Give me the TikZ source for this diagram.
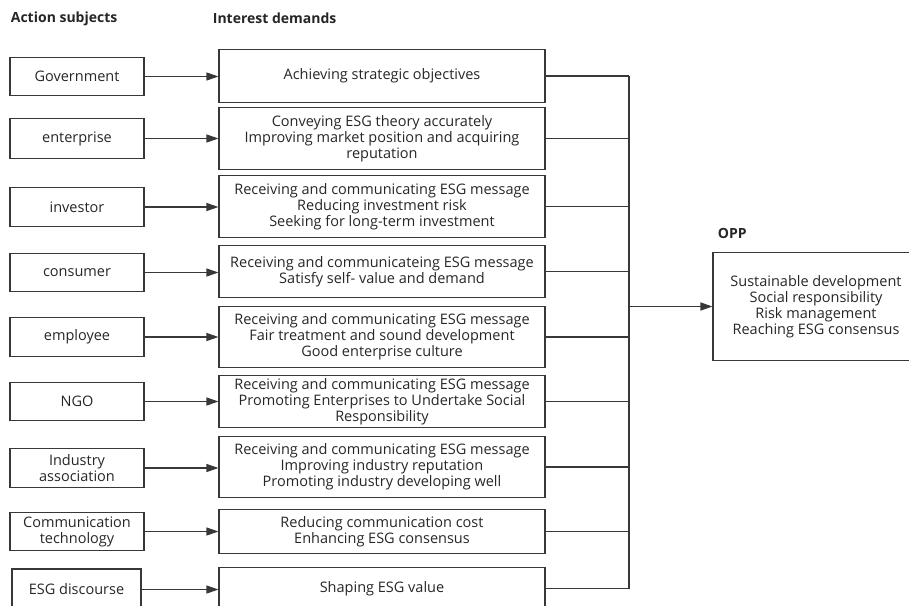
\documentclass[tikz,border=0pt]{standalone}
\usepackage{fontspec}
\setmainfont{Open Sans}
\usetikzlibrary{arrows.meta}
\definecolor{linec}{HTML}{383838}
\definecolor{textc}{HTML}{262626}

\begin{document}
\begin{tikzpicture}[x=1pt, y=-1pt, line width=1.1pt, color=linec, text=textc,
  font=\fontsize{14.5}{16}\selectfont,
  actor/.style={draw=linec, minimum width=134pt, minimum height=38pt, inner sep=1pt, align=center},
  demand/.style={draw=linec, minimum width=326pt, inner sep=1pt, align=center},
  head/.style={font=\fontsize{14}{16}\selectfont\bfseries, anchor=west},
  link/.style={-{Triangle[length=12pt, width=8pt]}}]
  \useasboundingbox (0,0) rectangle (909,605);
  \clip (0,0) rectangle (909,605);

  % titles
  \node[head] (tsub) at (7,18.5) {Action subjects};
  \node[head] (tdem) at (209,18.5) {Interest demands};
  \node[head] (topp) at (714,233) {OPP};

  % action subjects
  \node[actor] (a1) at (77,76.5) {Government};
  \node[actor, minimum height=40pt] (a2) at (77,138.5) {enterprise};
  \node[actor, minimum height=39pt] (a3) at (77,207) {investor};
  \node[actor] (a4) at (77,272.5) {consumer};
  \node[actor, minimum height=39pt] (a5) at (77,337) {employee};
  \node[actor] (a6) at (77,401.5) {NGO};
  \node[actor, minimum height=39pt] (a7) at (77,468) {Industry\\association};
  \node[actor] (a8) at (77,531.5) {Communication\\technology};
  \node[actor, minimum width=129pt, minimum height=41pt] (a9) at (76.5,589.5) {ESG discourse};

  % interest demands
  \node[demand, minimum height=53pt] (d1) at (382,76) {Achieving strategic objectives};
  \node[demand, minimum height=62pt] (d2) at (382,138.5) {Conveying ESG theory accurately\\Improving market position and acquiring\\reputation};
  \node[demand, minimum height=62pt] (d3) at (382,206.5) {Receiving and communicating ESG message\\Reducing investment risk\\Seeking for long-term investment};
  \node[demand, minimum height=52pt] (d4) at (382,271.5) {Receiving and communicateing ESG message\\Satisfy self- value and demand};
  \node[demand, minimum height=61pt] (d5) at (382,337) {Receiving and communicating ESG message\\Fair treatment and sound development\\Good enterprise culture};
  \node[demand, minimum height=52pt] (d6) at (382,401.5) {Receiving and communicating ESG message\\Promoting Enterprises to Undertake Social\\Responsibility};
  \node[demand, minimum height=61pt] (d7) at (382,467) {Receiving and communicating ESG message\\Improving industry reputation\\Promoting industry developing well};
  \node[demand, minimum height=44pt] (d8) at (382,531.5) {Reducing communication cost\\Enhancing ESG consensus};
  \node[demand, minimum height=42pt] (d9) at (382,588.5) {Shaping ESG value};

  % OPP
  \node[draw=linec, minimum width=206pt, minimum height=108pt, align=center] (opp) at (816,306.5)
    {Sustainable development\\Social responsibility\\Risk management\\Reaching ESG consensus};

  % subject -> demand
  \draw[link] (a1.east) -- (a1.east -| d1.west);
  \draw[link] (a2.east) -- (a2.east -| d2.west);
  \draw[link] (a3.east) -- (a3.east -| d3.west);
  \draw[link] (a4.east) -- (a4.east -| d4.west);
  \draw[link] (a5.east) -- (a5.east -| d5.west);
  \draw[link] (a6.east) -- (a6.east -| d6.west);
  \draw[link] (a7.east) -- (a7.east -| d7.west);
  \draw[link] (a8.east) -- (a8.east -| d8.west);
  \draw[link] (a9.east) -- (a9.east -| d9.west);

  % bus to OPP
  \coordinate (bus) at (629,0);
  \draw (d1.east) -- (d1.east -| bus);
  \draw (d2.east) -- (d2.east -| bus);
  \draw (d3.east) -- (d3.east -| bus);
  \draw (d4.east) -- (d4.east -| bus);
  \draw (d5.east) -- (d5.east -| bus);
  \draw (d6.east) -- (d6.east -| bus);
  \draw (d7.east) -- (d7.east -| bus);
  \draw (d8.east) -- (d8.east -| bus);
  \draw (d9.east) -- (d9.east -| bus);
  \draw (d1.east -| bus) -- (d9.east -| bus);
  \draw[link, line width=1.5pt] (opp.west -| bus) -- (opp.west);
\end{tikzpicture}
\end{document}
